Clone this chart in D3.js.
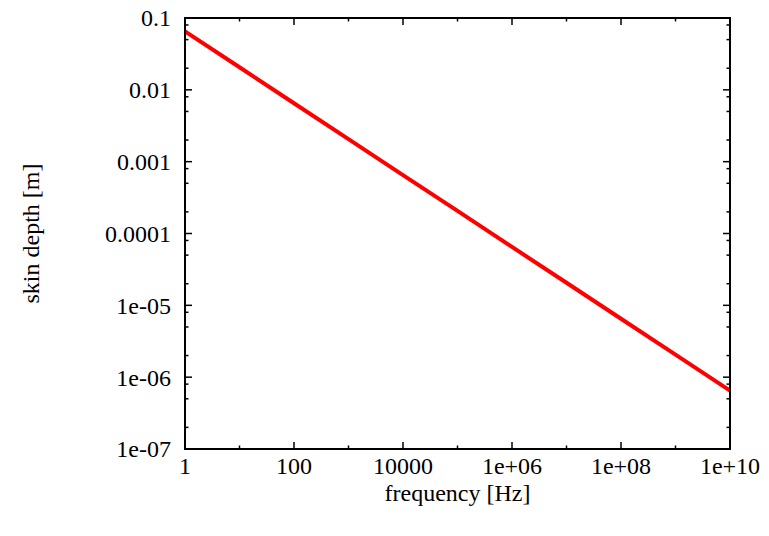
<!DOCTYPE html>
<html><head><meta charset="utf-8">
<script src="https://cdn.jsdelivr.net/npm/d3@7"></script>
<style>body{margin:0;background:#fff}svg{display:block}text{font-family:"Liberation Serif","Times New Roman",serif;fill:#000}</style>
</head><body>
<script>
const frequencies = [1, 10, 100, 1e3, 1e4, 1e5, 1e6, 1e7, 1e8, 1e9, 1e10];
const skinDepth = [0.065, 0.0206, 0.0065, 0.00206, 0.00065, 0.000206, 6.5e-5, 2.06e-5, 6.5e-6, 2.06e-6, 6.5e-7];
const xTickValues = [1, 100, 1e4, 1e6, 1e8, 1e10];
const xTickLabels = ["1", "100", "10000", "1e+06", "1e+08", "1e+10"];
const xMinorValues = [10, 1e3, 1e5, 1e7, 1e9];
const yTickValues = [0.1, 0.01, 0.001, 0.0001, 1e-5, 1e-6, 1e-7];
const yTickLabels = ["0.1", "0.01", "0.001", "0.0001", "1e-05", "1e-06", "1e-07"];
const yMinorMults = [2, 5, 8];

const W = 769, H = 536;
const m = {left: 185, right: 39, top: 18, bottom: 87};
const svg = d3.select("body").append("svg").attr("width", W).attr("height", H);
const x = d3.scaleLog().domain([1, 1e10]).range([m.left, W - m.right]);
const y = d3.scaleLog().domain([1e-7, 0.1]).range([H - m.bottom, m.top]);
const x0 = m.left, x1 = W - m.right, y0 = H - m.bottom, y1 = m.top;

const yMinor = [];
for (let e = -7; e < -1; e++) yMinorMults.forEach(k => yMinor.push(k * Math.pow(10, e)));

const g = svg.append("g").attr("stroke", "#000").attr("stroke-width", 1.5);
const majorLen = 7, minorLen = 3.5;
xTickValues.forEach(v => {
  g.append("line").attr("x1", x(v)).attr("x2", x(v)).attr("y1", y0).attr("y2", y0 - majorLen);
  g.append("line").attr("x1", x(v)).attr("x2", x(v)).attr("y1", y1).attr("y2", y1 + majorLen);
});
xMinorValues.forEach(v => {
  g.append("line").attr("x1", x(v)).attr("x2", x(v)).attr("y1", y0).attr("y2", y0 - minorLen);
  g.append("line").attr("x1", x(v)).attr("x2", x(v)).attr("y1", y1).attr("y2", y1 + minorLen);
});
yTickValues.forEach(v => {
  g.append("line").attr("x1", x0).attr("x2", x0 + majorLen).attr("y1", y(v)).attr("y2", y(v));
  g.append("line").attr("x1", x1).attr("x2", x1 - majorLen).attr("y1", y(v)).attr("y2", y(v));
});
yMinor.forEach(v => {
  g.append("line").attr("x1", x0).attr("x2", x0 + minorLen).attr("y1", y(v)).attr("y2", y(v));
  g.append("line").attr("x1", x1).attr("x2", x1 - minorLen).attr("y1", y(v)).attr("y2", y(v));
});

const line = d3.line().x((d, i) => x(frequencies[i])).y(d => y(d));
svg.append("path").datum(skinDepth).attr("d", line)
  .attr("fill", "none").attr("stroke", "#ff0000").attr("stroke-width", 4);

svg.append("rect").attr("x", x0).attr("y", y1).attr("width", x1 - x0).attr("height", y0 - y1)
  .attr("fill", "none").attr("stroke", "#000").attr("stroke-width", 2);

const fs = 24;
xTickValues.forEach((v, i) => {
  svg.append("text").attr("x", x(v)).attr("y", y0 + 17).attr("dy", "0.35em").attr("text-anchor", "middle")
    .attr("font-size", fs).text(xTickLabels[i]);
});
yTickValues.forEach((v, i) => {
  svg.append("text").attr("x", x0 - 14).attr("y", y(v)).attr("dy", "0.35em").attr("text-anchor", "end")
    .attr("font-size", fs).text(yTickLabels[i]);
});
svg.append("text").attr("x", (x0 + x1) / 2).attr("y", 493).attr("dy", "0.35em").attr("text-anchor", "middle")
  .attr("font-size", fs).text("frequency [Hz]");
svg.append("text").attr("transform", `translate(39,${(y0 + y1) / 2}) rotate(-90)`).attr("text-anchor", "middle")
  .attr("font-size", fs).text("skin depth [m]");
</script>
</body></html>
